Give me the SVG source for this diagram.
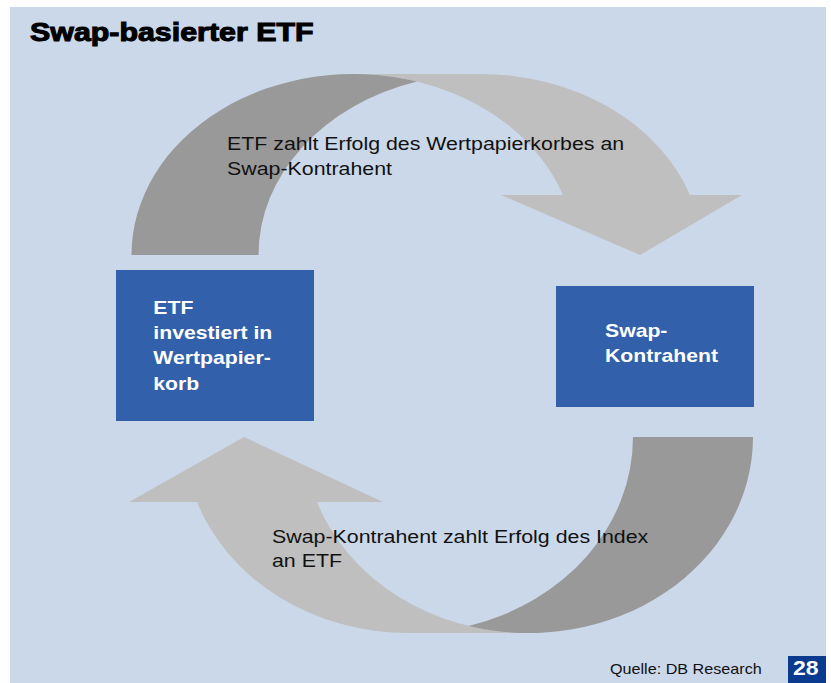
<svg xmlns="http://www.w3.org/2000/svg" width="831" height="683" viewBox="0 0 831 683">
  <style>
    .bg { fill: #CBD8E9; }
    .box { fill: #3260AA; }
    .light { fill: #BFBFBF; }
    .dark { fill: #999999; }
    .t { font-family: "Liberation Sans", Arial, sans-serif; }
    .title { font-size: 26.5px; font-weight: bold; fill: #000; stroke: #000; stroke-width: 1.1px; }
    .lbl { font-size: 18.5px; fill: #111; }
    .node { font-size: 18.6px; font-weight: bold; fill: #fff; }
    .src { font-size: 14px; fill: #111; }
    .pg { font-size: 20px; font-weight: bold; fill: #fff; }
  </style>
  <rect class="bg" x="10" y="7" width="816" height="676"/>
  <text class="t title" transform="translate(30 41) scale(1.146 1)">Swap-basierter ETF</text>

  <g id="connectors">
    <g id="arrow-top">
      <path class="light" d="M 640 255 L 501 195 L 563 195 A 222 181 0 0 0 353.5 74 L 480.5 74 A 222 181 0 0 1 690 195 L 742 195 Z"/>
      <path class="dark" d="M 131.5 255 A 222 181 0 0 1 417 81.6 A 222 181 0 0 0 258.5 255 Z"/>
      <text class="t lbl" transform="translate(227 150) scale(1.155 1)"><tspan x="0" y="0">ETF zahlt Erfolg des Wertpapierkorbes an</tspan><tspan x="0" y="25">Swap-Kontrahent</tspan></text>
    </g>
    <g id="arrow-bottom">
      <path class="light" d="M 244 437 L 129 502 L 197 502 A 224.3 196 0 0 0 408.7 633 L 528.7 633 A 224.3 196 0 0 1 317 502 L 383 502 Z"/>
      <path class="dark" d="M 753 437 A 224.3 196 0 0 1 468.7 625.9 A 224.3 196 0 0 0 633 437 Z"/>
      <text class="t lbl" transform="translate(272 543) scale(1.155 1)"><tspan x="0" y="0">Swap-Kontrahent zahlt Erfolg des Index</tspan><tspan x="0" y="24">an ETF</tspan></text>
    </g>
  </g>

  <g id="node-etf">
    <rect class="box" x="116" y="270" width="198" height="151"/>
    <text class="t node" transform="translate(153.3 314) scale(1.14 1)"><tspan x="0" y="0">ETF</tspan><tspan x="0" y="25.3">investiert in</tspan><tspan x="0" y="50.5">Wertpapier-</tspan><tspan x="0" y="76">korb</tspan></text>
  </g>

  <g id="node-swap">
    <rect class="box" x="556" y="286" width="198" height="121"/>
    <text class="t node" transform="translate(605 337) scale(1.14 1)"><tspan x="0" y="0">Swap-</tspan><tspan x="0" y="25.3">Kontrahent</tspan></text>
  </g>

  <g id="footer">
    <text class="t src" transform="translate(610 674) scale(1.155 1)">Quelle: DB Research</text>
    <rect x="788" y="656" width="38" height="27" fill="#0A3B8F"/>
    <text class="t pg" transform="translate(793 675) scale(1.15 1)">28</text>
  </g>
</svg>
